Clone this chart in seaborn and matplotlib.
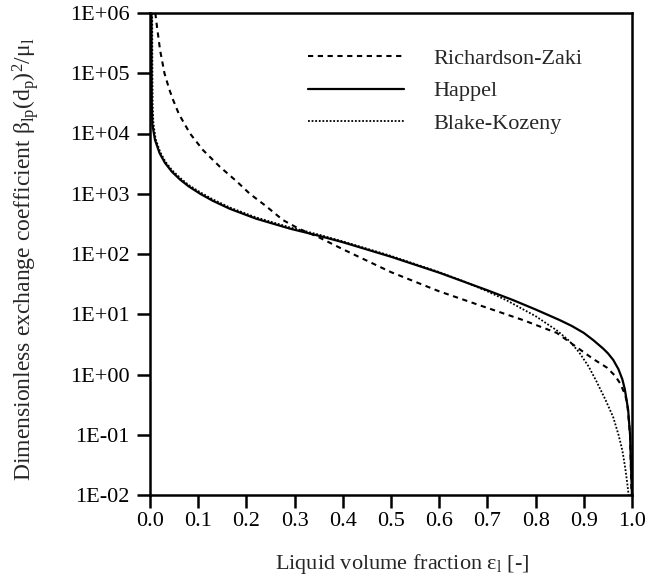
import numpy as np
import pandas as pd
import matplotlib
matplotlib.use("Agg")
import matplotlib.pyplot as plt
from matplotlib.ticker import FixedLocator, FuncFormatter, NullLocator
import seaborn as sns

# Liquid volume fraction (x) and dimensionless exchange coefficient (y) for each correlation
rz_eps = [0.011, 0.015, 0.021, 0.03, 0.04, 0.048, 0.06, 0.083, 0.11, 0.145, 0.18, 0.207, 0.24,
          0.276, 0.31, 0.35, 0.4, 0.5, 0.6, 0.685, 0.774, 0.844, 0.892, 0.92, 0.948, 0.965,
          0.975, 0.985, 0.99, 0.996, 0.999]
rz_beta = [1.0e6, 5.5e5, 2.4e5, 1.0e5, 5.4e4, 3.6e4, 2.1e4, 1.0e4, 5.3e3, 2.8e3, 1.6e3, 1.0e3,
           6.3e2, 3.65e2, 2.6e2, 1.9e2, 1.2e2, 5.0e1, 2.4e1, 1.4e1, 8.0, 4.9, 2.6, 1.8, 1.3,
           0.95, 0.72, 0.48, 0.34, 0.1, 0.01]

hp_eps = [0.003, 0.0033, 0.0037, 0.005, 0.0104, 0.02, 0.031, 0.045, 0.062, 0.08, 0.104, 0.13,
          0.166, 0.22, 0.29, 0.35, 0.4, 0.5, 0.6, 0.7, 0.753, 0.8, 0.85, 0.875, 0.9, 0.92, 0.94,
          0.95, 0.961, 0.972, 0.98, 0.985, 0.992, 0.996, 0.998, 1.0]
hp_beta = [1.0e6, 1.0e5, 3.0e4, 1.4e4, 7.8e3, 4.7e3, 3.26e3, 2.34e3, 1.73e3, 1.33e3, 1.0e3, 7.66e2,
           5.61e2, 3.86e2, 2.64e2, 2.01e2, 1.57e2, 9.0e1, 4.9e1, 2.5e1, 1.72e1, 1.2e1, 8.0, 6.4, 4.9,
           3.7, 2.7, 2.25, 1.75, 1.22, 0.83, 0.575, 0.26, 0.1, 0.03, 0.01]

bk_eps = [0.0045, 0.005, 0.0055, 0.007, 0.0115, 0.021, 0.032, 0.046, 0.063, 0.08, 0.104, 0.13,
          0.166, 0.22, 0.29, 0.35, 0.4, 0.5, 0.6, 0.65, 0.7, 0.74, 0.8, 0.844, 0.87, 0.89, 0.91,
          0.927, 0.945, 0.961, 0.972, 0.98, 0.986, 0.99, 0.993]
bk_beta = [1.0e6, 1.0e5, 3.0e4, 1.5e4, 8.2e3, 4.95e3, 3.4e3, 2.45e3, 1.82e3, 1.4e3, 1.06e3, 8.1e2,
           5.9e2, 4.05e2, 2.77e2, 2.1e2, 1.62e2, 9.3e1, 5.0e1, 3.54e1, 2.4e1, 1.7e1, 9.3, 5.4, 3.6,
           2.35, 1.36, 0.75, 0.38, 0.196, 0.1, 0.055, 0.028, 0.016, 0.01]

model_names = ["Richardson-Zaki", "Happel", "Blake-Kozeny"]

x_ticks = [0.0, 0.1, 0.2, 0.3, 0.4, 0.5, 0.6, 0.7, 0.8, 0.9, 1.0]
y_exponents = [-2, -1, 0, 1, 2, 3, 4, 5, 6]

sns.set_theme(style="ticks")
plt.rcParams["font.family"] = ["Liberation Serif", "DejaVu Serif"]
plt.rcParams["mathtext.fontset"] = "custom"
plt.rcParams["mathtext.rm"] = "Liberation Serif"
plt.rcParams["mathtext.it"] = "Liberation Serif"
plt.rcParams["mathtext.bf"] = "Liberation Serif:bold"

fig = plt.figure(figsize=(6.5, 5.8), dpi=100)
ax = fig.add_axes([150 / 650, 1 - 495 / 580, 482 / 650, 482 / 580])

series = [
    (rz_eps, rz_beta, model_names[0], dict(linestyle=(0, (2.5, 2.2)), linewidth=1.5)),
    (hp_eps, hp_beta, model_names[1], dict(linestyle="-", linewidth=1.6)),
    (bk_eps, bk_beta, model_names[2], dict(linestyle=(0, (1.0, 1.0)), linewidth=1.3)),
]
for xs, ys, name, style in series:
    df = pd.DataFrame({"eps": xs, "beta": ys})
    sns.lineplot(data=df, x="eps", y="beta", ax=ax, color="black", label=name,
                 sort=False, estimator=None, **style)

ax.set_yscale("log")
ax.set_xlim(0, 1)
ax.set_ylim(1e-2, 1e6)

ax.xaxis.set_major_locator(FixedLocator(x_ticks))
ax.xaxis.set_major_formatter(FuncFormatter(lambda v, p: f"{v:.1f}"))
ax.yaxis.set_major_locator(FixedLocator([10.0 ** k for k in y_exponents]))
ax.yaxis.set_major_formatter(FuncFormatter(lambda v, p: f"1E{int(round(np.log10(v))):+03d}"))
ax.yaxis.set_minor_locator(NullLocator())
ax.xaxis.set_minor_locator(NullLocator())

for s in ax.spines.values():
    s.set_visible(True)
    s.set_linewidth(1.8)
    s.set_color("black")
ax.tick_params(axis="both", which="major", direction="out", length=9.5, width=1.8,
               colors="black", labelsize=16)
ax.tick_params(axis="x", pad=3)
ax.tick_params(axis="y", pad=5)

ax.set_xlabel(r"Liquid volume fraction $\varepsilon_{\mathrm{l}}$ [-]", fontsize=16)
ax.set_ylabel(r"Dimensionless exchange coefficient $\beta_{\mathrm{lp}}(d_{\mathrm{p}})^{2}/\mu_{\mathrm{l}}$",
              fontsize=17)
ax.xaxis.set_label_coords(0.523, -0.118)
ax.yaxis.set_label_coords(-0.226, 0.49)

leg = ax.legend(loc="upper left", bbox_to_anchor=(308 / 650, 1 - 48 / 580),
                bbox_transform=fig.transFigure, frameon=False, fontsize=16,
                handlelength=4.3, handletextpad=1.35, labelspacing=0.55,
                borderpad=0, borderaxespad=0)

fig.savefig("out.png", dpi=100)
